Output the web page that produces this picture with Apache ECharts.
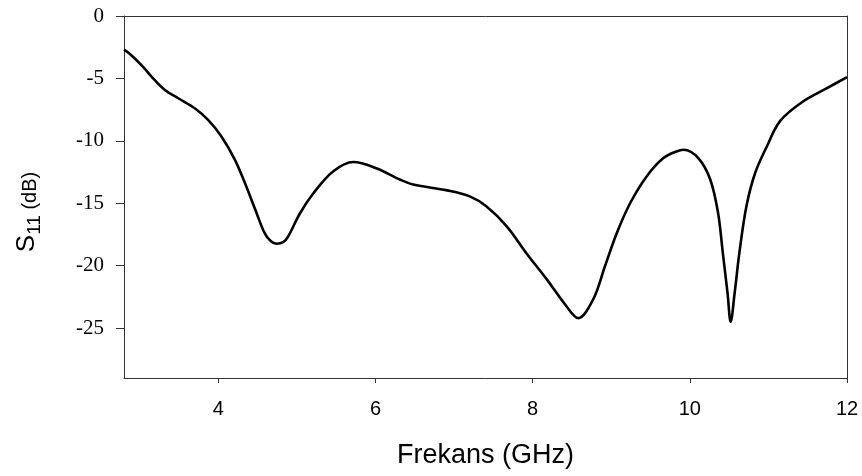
<!DOCTYPE html>
<html>
<head>
    <meta charset="utf-8">
    <title>S11</title>
    <style>
        html, body { margin: 0; padding: 0; background: #fff; }
        #container { width: 862px; height: 476px; }
    </style>
</head>
<body>
    <div id="container"></div>
</body>
<script src="https://cdn.jsdelivr.net/npm/echarts@6/dist/echarts.min.js"></script>
<script type="text/javascript">
    // values
    var freqGHz = [2.8, 2.89, 3.04, 3.15, 3.32, 3.49, 3.7, 3.87, 4.04, 4.21, 4.34, 4.47, 4.59, 4.67, 4.74, 4.83, 4.89,
        5.04, 5.21, 5.46, 5.72, 6.01, 6.31, 6.48, 6.91, 7.2, 7.41, 7.67, 7.92, 8.18, 8.43, 8.58, 8.77, 8.92, 9.07,
        9.24, 9.45, 9.66, 9.83, 9.92, 10.11, 10.26, 10.36, 10.42, 10.48, 10.52, 10.57, 10.63, 10.72, 10.83, 10.98, 11.15,
        11.44, 11.74, 12.0];
    var s11dB = [-2.7, -3.12, -4.05, -4.85, -5.92, -6.59, -7.39, -8.32, -9.65, -11.5, -13.4, -15.5, -17.4, -18.05, -18.24, -18.1, -17.65,
        -15.8, -14.2, -12.45, -11.7, -12.2, -13.1, -13.5, -13.97, -14.45, -15.25, -16.85, -19.0, -21.1, -23.25, -24.2, -22.7, -20.05, -17.4,
        -15.0, -12.85, -11.4, -10.85, -10.72, -11.4, -13.1, -15.8, -19.0, -22.2, -24.5, -22.2, -19.0, -15.25, -12.6, -10.45, -8.4,
        -6.85, -5.8, -4.9];
    var xTicks = [4, 6, 8, 10, 12];
    var yTicks = [0, -5, -10, -15, -20, -25];

    var points = [];
    for (var i = 0; i < freqGHz.length; i++) {
        points.push([freqGHz[i], s11dB[i]]);
    }

    var frameAxis = {
        type: 'value',
        axisLine: { show: true, lineStyle: { color: '#333', width: 1 } },
        axisTick: { show: false },
        axisLabel: { show: false },
        splitLine: { show: false }
    };

    var myChart = echarts.init(document.getElementById('container'));
    var option = {
        animation: false,
        grid: { left: 124, right: 15, top: 16, bottom: 98 },
        xAxis: [{
            type: 'value',
            min: 2.8, max: 12,
            name: 'Frekans (GHz)',
            nameLocation: 'middle',
            nameGap: 64,
            nameTextStyle: { fontFamily: 'Liberation Sans', fontSize: 27, color: '#000' },
            axisLine: { show: true, onZero: false, lineStyle: { color: '#333', width: 1 } },
            axisTick: { show: true, length: 5, customValues: xTicks, lineStyle: { color: '#333' } },
            axisLabel: { customValues: xTicks, margin: 21, fontFamily: 'Liberation Sans', fontSize: 20, color: '#000' },
            splitLine: { show: false }
        }, Object.assign({ position: 'top', min: 2.8, max: 12 }, frameAxis)],
        yAxis: [{
            type: 'value',
            min: -29, max: 0,
            name: '{s|S}{sub|11}{u| (dB)}',
            nameLocation: 'middle',
            nameGap: 84,
            nameTextStyle: {
                fontFamily: 'Liberation Sans', color: '#000',
                padding: [0, 30, 0, 0],
                rich: {
                    s: { fontFamily: 'Liberation Sans', fontSize: 26, color: '#000', lineHeight: 30, verticalAlign: 'bottom' },
                    sub: { fontFamily: 'Liberation Sans', fontSize: 19, color: '#000', lineHeight: 30, verticalAlign: 'bottom', padding: [0, 0, -4, 0] },
                    u: { fontFamily: 'Liberation Sans', fontSize: 20, color: '#000', lineHeight: 30, verticalAlign: 'bottom' }
                }
            },
            axisLine: { show: true, onZero: false, lineStyle: { color: '#333', width: 1 } },
            axisTick: { show: true, length: 8, customValues: yTicks, lineStyle: { color: '#333' } },
            axisLabel: { customValues: yTicks, margin: 20, fontFamily: 'Liberation Serif', fontSize: 21, color: '#000' },
            splitLine: { show: false }
        }, Object.assign({ position: 'right', min: -29, max: 0 }, frameAxis)],
        series: [{
            type: 'line',
            data: points,
            smooth: 0.35,
            symbol: 'none',
            lineStyle: { color: '#000', width: 2.6 }
        }]
    };
    myChart.setOption(option);
</script>
</html>
